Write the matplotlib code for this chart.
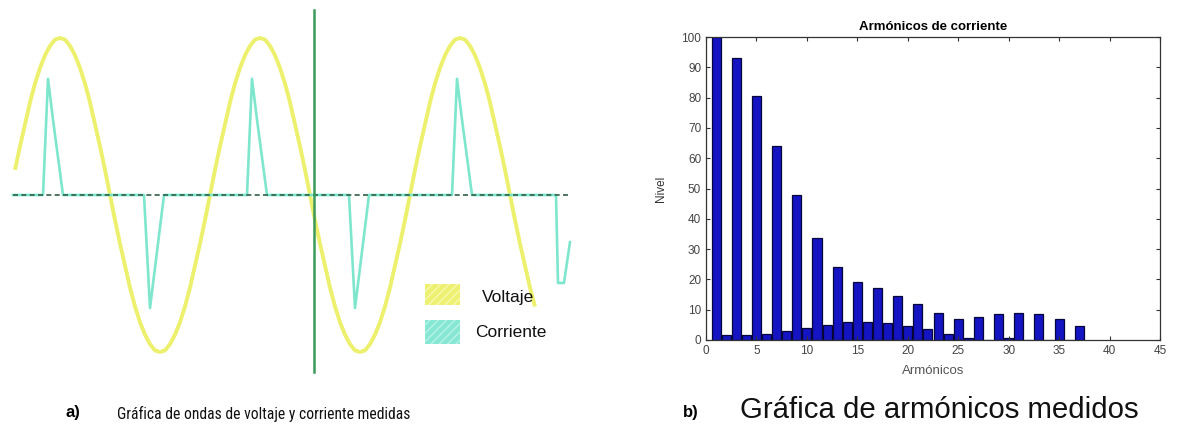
import matplotlib
matplotlib.use('Agg')
import matplotlib.pyplot as plt
from matplotlib import font_manager
from matplotlib.patches import Rectangle

# --- a) ondas medidas (tiempo en ms, amplitud normalizada) ---
t_volt = [-30.0, -29.5, -29.0, -28.5, -28.0, -27.5, -27.0, -26.5, -26.0, -25.5,
          -25.0, -24.5, -24.0, -23.5, -23.0, -22.5, -22.0, -21.5, -21.0, -20.5,
          -20.0, -19.5, -19.0, -18.5, -18.0, -17.5, -17.0, -16.5, -16.0, -15.5,
          -15.0, -14.5, -14.0, -13.5, -13.0, -12.5, -12.0, -11.5, -11.0, -10.5,
          -10.0, -9.5, -9.0, -8.5, -8.0, -7.5, -7.0, -6.5, -6.0, -5.5,
          -5.0, -4.5, -4.0, -3.5, -3.0, -2.5, -2.0, -1.5, -1.0, -0.5,
          0.0, 0.5, 1.0, 1.5, 2.0, 2.5, 3.0, 3.5, 4.0, 4.5,
          5.0, 5.5, 6.0, 6.5, 7.0, 7.5, 8.0, 8.5, 9.0, 9.5,
          10.0, 10.5, 11.0, 11.5, 12.0, 12.5, 13.0, 13.5, 14.0, 14.5,
          15.0, 15.5, 16.0, 16.5, 17.0, 17.5, 18.0, 18.5, 19.0, 19.5,
          20.0, 20.5, 21.0, 21.5, 22.0]
voltaje = [0.16, 0.31, 0.45, 0.59, 0.71, 0.81, 0.89, 0.95, 0.99, 1.00,
           0.99, 0.95, 0.89, 0.81, 0.71, 0.59, 0.45, 0.31, 0.16, 0.00,
           -0.16, -0.31, -0.45, -0.59, -0.71, -0.81, -0.89, -0.95, -0.99, -1.00,
           -0.99, -0.95, -0.89, -0.81, -0.71, -0.59, -0.45, -0.31, -0.16, 0.00,
           0.16, 0.31, 0.45, 0.59, 0.71, 0.81, 0.89, 0.95, 0.99, 1.00,
           0.99, 0.95, 0.89, 0.81, 0.71, 0.59, 0.45, 0.31, 0.16, 0.00,
           -0.16, -0.31, -0.45, -0.59, -0.71, -0.81, -0.89, -0.95, -0.99, -1.00,
           -0.99, -0.95, -0.89, -0.81, -0.71, -0.59, -0.45, -0.31, -0.16, 0.00,
           0.16, 0.31, 0.45, 0.59, 0.71, 0.81, 0.89, 0.95, 0.99, 1.00,
           0.99, 0.95, 0.89, 0.81, 0.71, 0.59, 0.45, 0.31, 0.16, 0.00,
           -0.16, -0.31, -0.45, -0.59, -0.71]

t_corr = [-30.2, -27.2, -26.7, -26.2, -25.2,
          -17.1, -16.5, -15.1,
          -6.8, -6.3, -5.8, -4.8,
          3.4, 4.0, 5.4,
          13.7, 14.2, 14.7, 15.7,
          24.1, 24.3, 24.9, 25.5]
corriente = [0, 0, 0.74, 0.48, 0,
             0, -0.72, 0,
             0, 0.74, 0.48, 0,
             0, -0.72, 0,
             0, 0.74, 0.48, 0,
             0, -0.56, -0.56, -0.30]

# --- b) armonicos ---
armonicos = list(range(1, 38))
nivel = [100, 1.5, 93, 1.5, 80.5, 2, 64, 3, 48, 4,
         33.5, 5, 24, 6, 19, 6, 17, 5.5, 14.5, 4.5,
         12, 3.5, 9, 2, 7, 0.5, 7.5, 0, 8.5, 0.5,
         9, 0, 8.5, 0, 7, 0, 4.5]

names = {f.name for f in font_manager.fontManager.ttflist}
sans = 'Liberation Sans' if 'Liberation Sans' in names else 'DejaVu Sans'
narrow = sans
for cand in ['Liberation Sans Narrow', 'Arial Narrow', 'Roboto Condensed',
             'Open Sans Condensed', 'DejaVu Sans Condensed']:
    if cand in names:
        narrow = cand
        break
plt.rcParams['font.family'] = sans

W, H = 1177, 438
fig = plt.figure(figsize=(W / 100, H / 100), dpi=100)

# panel a: x px = 315 + 10*t, y px = 195 - 157*v
ax1 = fig.add_axes([0, 0, 600 / W, 1])
ax1.set_xlim(-31.5, 28.5)
ax1.set_ylim((195 - H) / 157, 195 / 157)
ax1.axis('off')

ax1.plot(t_volt, voltaje, color='#ecf06c', lw=2.8, solid_capstyle='butt',
         solid_joinstyle='round', zorder=2)
ax1.plot(t_corr, corriente, color='#7ee6cc', lw=1.9, zorder=3)
ax1.plot([-30.2, 25.5], [0, 0], color='#2f5f45', lw=1.2, ls=(0, (3, 2)), zorder=4)
ax1.plot([-0.1, -0.1], [1.18, -1.13], color='#3c9a5c', lw=1.8, zorder=4)

ax1.add_patch(Rectangle((11.0, -0.70), 3.5, 0.13, facecolor='#eef070',
                        edgecolor='#f7f8b0', hatch='////', lw=0, zorder=3))
ax1.add_patch(Rectangle((11.0, -0.95), 3.5, 0.155, facecolor='#86e8d4',
                        edgecolor='#b8f2e6', hatch='////', lw=0, zorder=3))
ax1.text(16.7, -0.65, 'Voltaje', fontsize=12.5, va='center', ha='left', color='#111111')
ax1.text(16.0, -0.875, 'Corriente', fontsize=12.5, va='center', ha='left', color='#111111')

# panel b
ax2 = fig.add_axes([706 / W, (H - 340) / H, 454 / W, 303 / H])
ax2.bar(armonicos, nivel, width=0.9, color='#1414c2', edgecolor='#06063a', lw=0.9)
ax2.set_xlim(0, 45)
ax2.set_ylim(0, 100)
ax2.set_xticks(range(0, 46, 5))
ax2.set_yticks(range(0, 101, 10))
ax2.tick_params(direction='in', top=True, right=True, length=3, labelsize=8.5,
                labelcolor='#444444', color='#333333')
for s in ax2.spines.values():
    s.set_color('#333333')
    s.set_linewidth(0.9)
ax2.set_title('Armónicos de corriente', fontsize=9.5, fontweight='bold', pad=5)
ax2.set_xlabel('Armónicos', fontsize=9.5, color='#555555', labelpad=6)
ax2.set_ylabel('Nivel', fontsize=8.5, color='#333333', labelpad=10)

# captions
fig.text(65 / W, 1 - 412 / H, 'a)', fontsize=12, fontweight='bold', va='center', ha='left')
cap_a = fig.text(117 / W, 1 - 414 / H, 'Gráfica de ondas de voltaje y corriente medidas',
                 fontsize=15, family=narrow, va='center', ha='left', color='#111111')
fig.text(683 / W, 1 - 412 / H, 'b)', fontsize=12, fontweight='bold', va='center', ha='left')
cap_b = fig.text(740 / W, 1 - 410 / H, 'Gráfica de armónicos medidos',
                 fontsize=19.5, va='center', ha='left', color='#111111')

# ajustar el tamaño de los pies a su ancho en la figura original
renderer = fig.canvas.get_renderer()
for txt, ancho in [(cap_a, 293), (cap_b, 400)]:
    w = txt.get_window_extent(renderer).width
    txt.set_fontsize(txt.get_fontsize() * ancho / w)

fig.savefig('out.png', dpi=100)
